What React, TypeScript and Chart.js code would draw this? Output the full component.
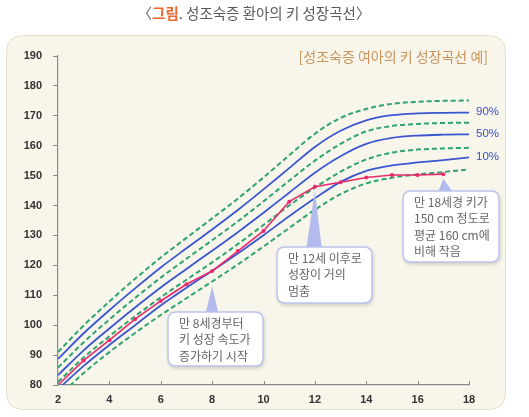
import { useEffect, useRef } from 'react';
import { Chart, registerables } from 'chart.js';

Chart.register(...registerables);

// Ages (years) for the reference percentile curves
const AGES = [2, 3, 4, 5, 6, 7, 8, 9, 10, 11, 12, 13, 14, 15, 16, 17, 18];

// Percentile height curves (cm)
const P97 = [91.0, 99.9, 107.9, 115.5, 122.6, 129.2, 135.7, 142.3, 149.4, 156.8, 164.0, 169.3, 172.3, 174.0, 174.7, 175.0, 175.1];
const P90 = [88.7, 97.3, 105.0, 112.3, 119.3, 125.7, 132.0, 138.5, 145.4, 152.5, 159.6, 165.0, 168.5, 170.2, 170.8, 171.0, 171.1];
const P75 = [85.8, 94.3, 101.9, 109.1, 115.9, 122.2, 128.4, 134.7, 141.4, 148.3, 155.0, 160.6, 164.8, 166.6, 167.3, 167.6, 167.7];
const P50 = [83.3, 91.6, 98.9, 105.9, 112.6, 118.8, 124.9, 131.1, 137.6, 144.3, 151.0, 156.5, 160.6, 162.6, 163.4, 163.7, 163.8];
const P25 = [81.0, 89.2, 96.3, 103.0, 109.3, 115.2, 121.0, 127.1, 133.5, 140.0, 146.0, 151.3, 155.4, 157.7, 158.7, 159.1, 159.3];
const P10 = [78.6, 86.4, 93.4, 100.0, 106.6, 112.5, 118.2, 124.0, 130.1, 136.4, 142.4, 147.9, 151.6, 153.4, 154.4, 155.2, 156.1];
const P3 = [76.0, 84.0, 91.0, 97.4, 103.4, 109.0, 114.6, 120.3, 126.3, 132.5, 138.6, 143.8, 147.4, 149.3, 150.4, 151.2, 152.1];

// Measured heights of the girl with precocious puberty
const PATIENT_AGES = [2, 3, 4, 5, 6, 7, 8, 9, 10, 11, 12, 13, 14, 15, 16, 17];
const PATIENT = [80.0, 88.2, 95.0, 102.0, 108.1, 113.7, 118.1, 124.8, 131.5, 141.3, 146.3, 147.8, 149.4, 150.2, 150.2, 150.5];

const CURVE_LABELS = ['90%', '50%', '10%'];

const TITLE_PREFIX = '〈';
const TITLE_TAG = '그림';
const TITLE_REST = '. 성조숙증 환아의 키 성장곡선〉';
const SUBTITLE = '[성조숙증 여아의 키 성장곡선 예]';

const NOTE_8 = ['만 8세경부터', '키 성장 속도가', '증가하기 시작'];
const NOTE_12 = ['만 12세 이후로', '성장이 거의', '멈춤'];
const NOTE_18 = ['만 18세경 키가', '150 cm 정도로', '평균 160 cm에', '비해 작음'];

const BLUE = '#3a56d0';
const GREEN = '#2fa46c';
const PINK = '#ea2a6c';
const KR = "'Noto Sans CJK KR', 'Noto Sans', sans-serif";
const LAT = "'Liberation Sans', Arial, sans-serif";

const pts = (xs: number[], ys: number[]) => xs.map((x, i) => ({ x, y: ys[i] }));

function roundRect(ctx: CanvasRenderingContext2D, x: number, y: number, w: number, h: number, r: number) {
  ctx.beginPath();
  ctx.moveTo(x + r, y);
  ctx.lineTo(x + w - r, y);
  ctx.quadraticCurveTo(x + w, y, x + w, y + r);
  ctx.lineTo(x + w, y + h - r);
  ctx.quadraticCurveTo(x + w, y + h, x + w - r, y + h);
  ctx.lineTo(x + r, y + h);
  ctx.quadraticCurveTo(x, y + h, x, y + h - r);
  ctx.lineTo(x, y + r);
  ctx.quadraticCurveTo(x, y, x + r, y);
  ctx.closePath();
}

type Note = {
  box: { x: number; y: number; w: number; h: number };
  base: [number, number];
  tip: [number, number];
  lines: string[];
};

const NOTES: Note[] = [
  { box: { x: 168, y: 312, w: 95, h: 54 }, base: [205, 219], tip: [8, 113], lines: NOTE_8 },
  { box: { x: 277, y: 247, w: 95, h: 56 }, base: [306, 322], tip: [12, 145], lines: NOTE_12 },
  { box: { x: 403, y: 191, w: 96, h: 71 }, base: [437, 455], tip: [17, 149], lines: NOTE_18 },
];

const decorPlugin = {
  id: 'decor',
  beforeDraw(chart: any) {
    const ctx: CanvasRenderingContext2D = chart.ctx;
    ctx.save();
    // panel
    roundRect(ctx, 6.5, 35.5, 499, 374, 17);
    ctx.fillStyle = '#f8f5eb';
    ctx.fill();
    ctx.strokeStyle = '#e6ddc9';
    ctx.lineWidth = 1;
    ctx.stroke();

    // title
    const size = 14.5;
    ctx.textBaseline = 'middle';
    ctx.font = `${size}px ${KR}`;
    const w1 = ctx.measureText(TITLE_PREFIX).width;
    ctx.font = `bold ${size}px ${KR}`;
    const w2 = ctx.measureText(TITLE_TAG).width;
    ctx.font = `${size}px ${KR}`;
    const w3 = ctx.measureText(TITLE_REST).width;
    let tx = 254 - (w1 + w2 + w3) / 2;
    ctx.textAlign = 'left';
    ctx.fillStyle = '#666';
    ctx.fillText(TITLE_PREFIX, tx, 13);
    tx += w1;
    ctx.font = `bold ${size}px ${KR}`;
    ctx.fillStyle = '#f0642a';
    ctx.fillText(TITLE_TAG, tx, 13);
    tx += w2;
    ctx.font = `${size}px ${KR}`;
    ctx.fillStyle = '#5a5a5a';
    ctx.fillText(TITLE_REST, tx, 13);

    // subtitle
    ctx.font = `14px ${KR}`;
    ctx.textAlign = 'right';
    ctx.fillStyle = '#c8945c';
    ctx.fillText(SUBTITLE, 488, 57);
    ctx.restore();
  },
  afterDraw(chart: any) {
    const ctx: CanvasRenderingContext2D = chart.ctx;
    const xs = chart.scales.x;
    const ys = chart.scales.y;
    const area = chart.chartArea;
    ctx.save();

    // inner tick marks on the x axis
    ctx.strokeStyle = '#8a8a8a';
    ctx.lineWidth = 1;
    xs.ticks.forEach((t: any) => {
      const px = Math.round(xs.getPixelForValue(t.value)) + 0.5;
      ctx.beginPath();
      ctx.moveTo(px, area.bottom);
      ctx.lineTo(px, area.bottom - 4);
      ctx.stroke();
    });

    // percentile labels at curve ends
    ctx.font = `11.5px ${LAT}`;
    ctx.fillStyle = '#3b4fc2';
    ctx.textAlign = 'left';
    ctx.textBaseline = 'middle';
    const ends = [P90, P50, P10];
    CURVE_LABELS.forEach((label, i) => {
      const arr = ends[i];
      ctx.fillText(label, area.right + 7, ys.getPixelForValue(arr[arr.length - 1]) - 1);
    });

    // callouts
    NOTES.forEach((n) => {
      const tipX = xs.getPixelForValue(n.tip[0]);
      const tipY = ys.getPixelForValue(n.tip[1]);
      ctx.beginPath();
      ctx.moveTo(tipX, tipY);
      ctx.lineTo(n.base[1], n.box.y + 4);
      ctx.lineTo(n.base[0], n.box.y + 4);
      ctx.closePath();
      ctx.fillStyle = '#b3baee';
      ctx.fill();

      ctx.save();
      ctx.shadowColor = 'rgba(0,0,0,0.2)';
      ctx.shadowBlur = 4;
      ctx.shadowOffsetX = 1;
      ctx.shadowOffsetY = 2;
      roundRect(ctx, n.box.x, n.box.y, n.box.w, n.box.h, 8);
      ctx.fillStyle = '#ffffff';
      ctx.fill();
      ctx.restore();
      roundRect(ctx, n.box.x, n.box.y, n.box.w, n.box.h, 8);
      ctx.strokeStyle = '#bcc3f0';
      ctx.lineWidth = 1.5;
      ctx.stroke();

      ctx.font = `12px ${KR}`;
      ctx.fillStyle = '#666';
      ctx.textAlign = 'left';
      ctx.textBaseline = 'middle';
      n.lines.forEach((ln, i) => {
        ctx.fillText(ln, n.box.x + 11, n.box.y + 11.5 + i * 16.3);
      });
    });
    ctx.restore();
  },
};

export default function App() {
  const ref = useRef<HTMLCanvasElement | null>(null);

  useEffect(() => {
    if (!ref.current) return;
    Chart.defaults.font.family = LAT;
    const curve = (data: number[], color: string, dashed: boolean) => ({
      data: pts(AGES, data),
      borderColor: color,
      borderWidth: dashed ? 2 : 1.8,
      borderDash: dashed ? [5, 3] : [],
      pointRadius: 0,
      cubicInterpolationMode: 'monotone' as const,
      fill: false,
      clip: 0,
    });
    const chart = new Chart(ref.current, {
      type: 'line',
      data: {
        datasets: [
          {
            data: pts(PATIENT_AGES, PATIENT),
            borderColor: PINK,
            backgroundColor: PINK,
            borderWidth: 1.6,
            pointRadius: 2,
            pointBorderWidth: 0,
            tension: 0,
            fill: false,
            clip: 0,
          },
          curve(P90, BLUE, false),
          curve(P50, BLUE, false),
          curve(P10, BLUE, false),
          curve(P97, GREEN, true),
          curve(P75, GREEN, true),
          curve(P25, GREEN, true),
          curve(P3, GREEN, true),
        ] as any,
      },
      options: {
        animation: false,
        responsive: false,
        devicePixelRatio: 1,
        layout: { padding: { left: 8, top: 56, right: 60, bottom: 0 } },
        plugins: { legend: { display: false }, tooltip: { enabled: false } },
        scales: {
          x: {
            type: 'linear',
            min: 2,
            max: 18,
            afterFit: (s: any) => {
              s.height = 32;
            },
            ticks: { stepSize: 2, padding: 8, color: '#333', font: { size: 11, weight: 'bold' } },
            grid: { display: true, drawOnChartArea: false, drawTicks: false, color: '#8a8a8a' },
            border: { display: true, color: '#8a8a8a', width: 1.2 },
          },
          y: {
            type: 'linear',
            min: 80,
            max: 190,
            afterFit: (s: any) => {
              s.width = 50;
            },
            ticks: { stepSize: 10, padding: 11, color: '#333', font: { size: 11, weight: 'bold' } },
            grid: { display: true, drawOnChartArea: false, drawTicks: true, tickLength: 5, color: '#8a8a8a' },
            border: { display: true, color: '#8a8a8a', width: 1.2 },
          },
        },
      } as any,
      plugins: [decorPlugin],
    });
    return () => chart.destroy();
  }, []);

  return (
    <div style={{ position: 'fixed', left: 0, top: 0, width: 529, height: 417, background: '#fff' }}>
      <canvas ref={ref} width={529} height={417} style={{ display: 'block', width: 529, height: 417 }} />
    </div>
  );
}
